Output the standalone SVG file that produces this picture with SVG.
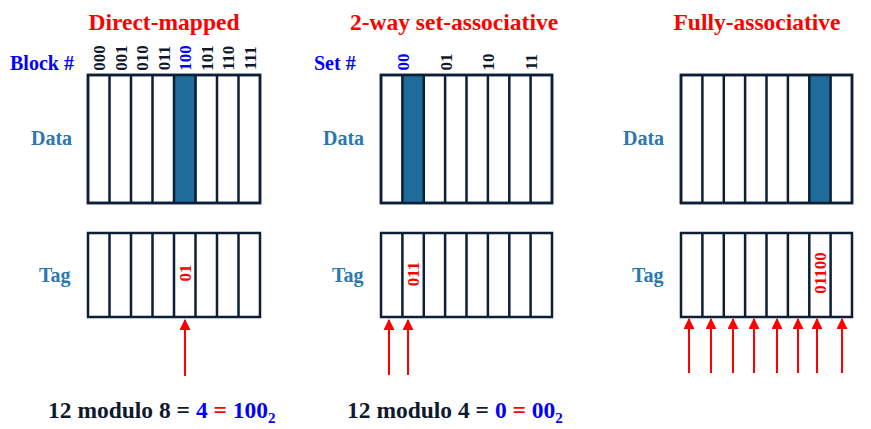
<svg xmlns="http://www.w3.org/2000/svg" width="871" height="429" viewBox="0 0 871 429">
<style>
text{font-family:"Liberation Serif","Times New Roman",serif;font-weight:bold}
.title{font-size:23.5px;fill:#ff0000;text-anchor:middle}
.hdr{font-size:20px;fill:#0000ff}
.lbl{font-size:20px;fill:#2a78b0}
.num{font-size:17px;fill:#111a2a;text-anchor:middle}
.numb{font-size:17px;fill:#0000ff;text-anchor:middle}
.tag{font-size:17px;fill:#ff0000;text-anchor:middle}
.box{fill:#ffffff;stroke:#0b1f36;stroke-width:2.5}
.sh{fill:#1f6b9a}
.div{stroke:#0b1f36;stroke-width:2.5}
.eq{font-size:23.5px;fill:#0f1b2d}
.blue{fill:#0000ff}
.red{fill:#ff0000}
.arr{stroke:#ff0000;stroke-width:2;fill:none;marker-end:url(#ah)}
</style>
<defs>
<marker id="ah" viewBox="0 0 10 10" refX="9" refY="5" markerWidth="5.5" markerHeight="5.5" orient="auto" markerUnits="strokeWidth">
<path d="M0,0 L10,5 L0,10 z" fill="#ff0000"/>
</marker>
</defs>
<rect width="871" height="429" fill="#ffffff"/>

<g id="direct-mapped">
<text class="title" x="164" y="30">Direct-mapped</text>
<text class="hdr" x="10" y="70">Block #</text>
<g>
<text class="num" transform="translate(104.5,58) rotate(-90)">000</text>
<text class="num" transform="translate(126.5,58) rotate(-90)">001</text>
<text class="num" transform="translate(147.5,58) rotate(-90)">010</text>
<text class="num" transform="translate(169.5,58) rotate(-90)">011</text>
<text class="numb" transform="translate(190.5,58) rotate(-90)">100</text>
<text class="num" transform="translate(212.5,58) rotate(-90)">101</text>
<text class="num" transform="translate(233.5,58) rotate(-90)">110</text>
<text class="num" transform="translate(255.5,58) rotate(-90)">111</text>
</g>
<text class="lbl" x="31" y="145">Data</text>
<rect class="box" x="88" y="75" width="172" height="128"/>
<rect class="sh" x="175" y="75" width="21.5" height="128"/>
<path class="div" d="M109.5,75V203M131,75V203M152.5,75V203M174,75V203M195.5,75V203M217,75V203M238.5,75V203"/>
<rect class="box" x="88" y="75" width="172" height="128" style="fill:none"/>
<text class="lbl" x="39" y="282">Tag</text>
<rect class="box" x="88" y="233" width="172" height="84"/>
<path class="div" d="M109.5,233V317M131,233V317M152.5,233V317M174,233V317M195.5,233V317M217,233V317M238.5,233V317"/>
<text class="tag" transform="translate(190.5,273) rotate(-90)">01</text>
</g>

<g id="two-way">
<text class="title" x="454" y="30">2-way set-associative</text>
<text class="hdr" x="314" y="70">Set #</text>
<text class="numb" transform="translate(408.5,62) rotate(-90)">00</text>
<text class="num" transform="translate(451.5,62) rotate(-90)">01</text>
<text class="num" transform="translate(493.5,62) rotate(-90)">10</text>
<text class="num" transform="translate(536.5,62) rotate(-90)">11</text>
<text class="lbl" x="323" y="145">Data</text>
<rect class="box" x="381" y="75" width="171" height="128"/>
<rect class="sh" x="402.4" y="75" width="21.4" height="128"/>
<path class="div" d="M402.4,75V203M423.8,75V203M445.1,75V203M466.5,75V203M487.9,75V203M509.3,75V203M530.6,75V203"/>
<rect class="box" x="381" y="75" width="171" height="128" style="fill:none"/>
<text class="lbl" x="332" y="282">Tag</text>
<rect class="box" x="381" y="233" width="171" height="84"/>
<path class="div" d="M402.4,233V317M423.8,233V317M445.1,233V317M466.5,233V317M487.9,233V317M509.3,233V317M530.6,233V317"/>
<text class="tag" transform="translate(418.5,274) rotate(-90)">011</text>
</g>

<g id="fully-associative">
<text class="title" x="757" y="30">Fully-associative</text>
<text class="lbl" x="623" y="145">Data</text>
<rect class="box" x="681" y="75" width="171" height="128"/>
<rect class="sh" x="809.3" y="75" width="21.4" height="128"/>
<path class="div" d="M702.4,75V203M723.8,75V203M745.1,75V203M766.5,75V203M787.9,75V203M809.3,75V203M830.6,75V203"/>
<rect class="box" x="681" y="75" width="171" height="128" style="fill:none"/>
<text class="lbl" x="632" y="282">Tag</text>
<rect class="box" x="681" y="233" width="171" height="84"/>
<path class="div" d="M702.4,233V317M723.8,233V317M745.1,233V317M766.5,233V317M787.9,233V317M809.3,233V317M830.6,233V317"/>
<text class="tag" transform="translate(825.5,273) rotate(-90)">01100</text>
</g>

<g id="connectors">
<line class="arr" x1="185" y1="376" x2="185" y2="320"/>
<line class="arr" x1="389" y1="375" x2="389" y2="320"/>
<line class="arr" x1="408" y1="375" x2="408" y2="320"/>
<line class="arr" x1="689" y1="373" x2="689" y2="319"/>
<line class="arr" x1="711" y1="373" x2="711" y2="319"/>
<line class="arr" x1="733" y1="373" x2="733" y2="319"/>
<line class="arr" x1="754" y1="373" x2="754" y2="319"/>
<line class="arr" x1="777" y1="373" x2="777" y2="319"/>
<line class="arr" x1="798" y1="373" x2="798" y2="319"/>
<line class="arr" x1="817" y1="373" x2="817" y2="319"/>
<line class="arr" x1="842" y1="373" x2="842" y2="319"/>
</g>

<g id="equations">
<text class="eq" x="48" y="418">12 modulo 8 = <tspan class="blue">4</tspan> <tspan class="red">=</tspan> <tspan class="blue">100</tspan><tspan class="blue" font-size="15" dy="5">2</tspan></text>
<text class="eq" x="347" y="418">12 modulo 4 = <tspan class="blue">0</tspan> <tspan class="red">=</tspan> <tspan class="blue">00</tspan><tspan class="blue" font-size="15" dy="5">2</tspan></text>
</g>
</svg>
